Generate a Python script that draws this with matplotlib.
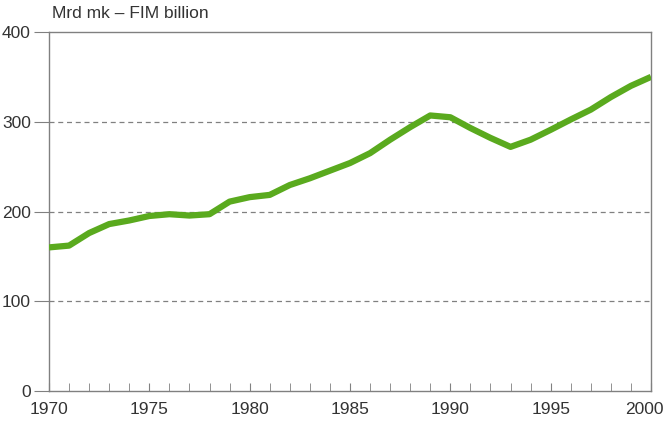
import matplotlib.pyplot as plt
import matplotlib.transforms as mtransforms

# Values (FIM billion)
years = list(range(1970, 2001))
values = [160, 162, 176, 186, 190, 195, 197, 195.5, 197, 211,
          216, 218.5, 229.5, 237, 245.5, 254, 265, 280, 294, 307,
          305, 293, 282, 272, 280, 291, 302.5, 313.5, 327.5, 340, 350]
yticks = [0, 100, 200, 300, 400]
xticks = [1970, 1975, 1980, 1985, 1990, 1995, 2000]

plt.rcParams['font.family'] = ['Liberation Sans', 'DejaVu Sans']

grey = '#808080'
txt = '#333333'

fig = plt.figure(figsize=(6.66, 4.25), dpi=100)
ax = fig.add_axes([49 / 666, 1 - 391 / 425, (651 - 49) / 666, (391 - 32) / 425])

ax.plot(years, values, color='#5aaa1e', lw=4.5, solid_capstyle='butt',
        solid_joinstyle='round', zorder=3)

ax.set_xlim(1970, 2000)
ax.set_ylim(0, 400)
ax.set_yticks(yticks)
ax.set_xticks(xticks)
ax.set_xticks(years, minor=True)

for y in yticks[1:-1]:
    ax.axhline(y, color=grey, lw=0.9, ls=(0, (4, 3)), zorder=1)

for s in ax.spines.values():
    s.set_color(grey)
    s.set_linewidth(1.0)

ax.tick_params(axis='y', direction='out', length=11, color=grey,
               labelsize=12.5, labelcolor=txt, pad=2)
ax.tick_params(axis='x', which='both', direction='in', length=6, color=grey,
               labelsize=12.5, labelcolor=txt, pad=8)

# keep the last year label inside the figure
last = ax.get_xticklabels()[-1]
last.set_transform(last.get_transform() +
                   mtransforms.ScaledTranslation(-5 / 72, 0, fig.dpi_scale_trans))

fig.text(52 / 666, 1 - 14 / 425, 'Mrd mk – FIM billion', fontsize=12.5,
         color=txt, va='center', ha='left')

fig.savefig('out.png', dpi=100)
